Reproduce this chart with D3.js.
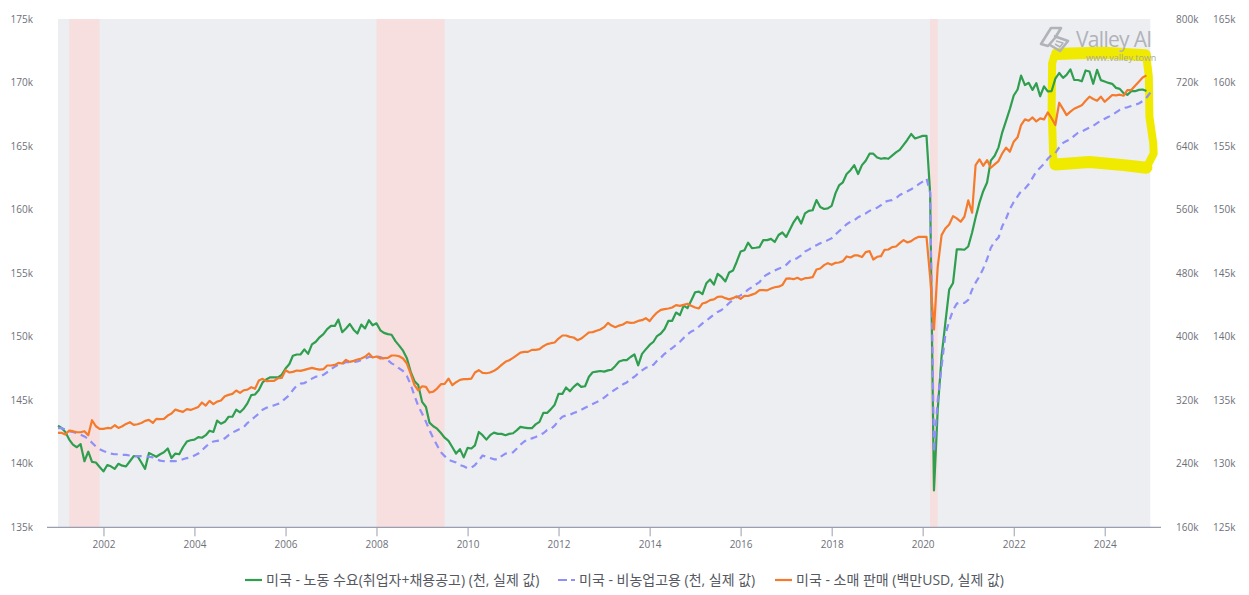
<!DOCTYPE html>
<html lang="ko">
<head>
<meta charset="utf-8">
<title>미국 노동 수요, 비농업고용, 소매 판매</title>
<script src="https://cdn.jsdelivr.net/npm/d3@7/dist/d3.min.js"></script>
<style>
  html, body { margin: 0; padding: 0; background: #fff; }
  svg { display: block; }
  text { font-family: "Open Sans", "Noto Sans CJK KR", sans-serif; }
</style>
</head>
<body>
<div id="chart"></div>
<script>
// Monthly series from January 2001, one row per calendar year.
const laborDemand = [
  143.0,142.8,142.5,141.9,141.5,141.3,141.55,140.2,140.95,140.15,140.1,139.75,
  139.4,139.9,139.8,139.6,140.0,139.85,139.8,140.2,140.6,140.6,140.1,139.6,
  140.85,140.7,140.55,140.75,140.9,141.2,140.45,140.8,140.75,141.3,141.75,141.85,
  141.9,142.1,142.05,142.25,142.6,142.5,143.4,143.15,143.3,143.7,143.7,144.25,
  144.05,144.35,144.75,145.4,145.45,145.8,146.4,146.65,146.8,146.8,146.8,147.0,
  147.5,147.85,148.5,148.6,148.6,149.0,148.65,149.4,149.6,149.95,150.2,150.6,
  150.85,150.85,151.35,150.35,150.65,151.0,150.55,150.25,150.95,150.65,151.3,150.9,
  151.05,150.5,150.3,150.2,150.15,149.65,149.3,148.9,148.3,147.25,146.5,146.2,
  144.87,144.47,143.24,142.95,142.76,142.42,142.05,141.8,141.3,140.8,141.15,140.5,
  141.25,141.2,141.45,142.5,142.25,141.9,142.25,142.45,142.35,142.35,142.25,142.35,
  142.4,142.65,142.9,142.85,142.8,142.8,143.1,143.3,144.0,144.0,144.3,144.65,
  145.5,145.5,146.0,145.7,146.05,146.3,146.05,146.1,146.85,147.2,147.25,147.3,
  147.25,147.35,147.4,147.7,148.05,148.15,148.15,148.4,148.6,147.75,148.65,149.0,
  149.35,149.6,150.05,150.25,150.6,151.25,151.25,151.9,151.7,152.45,152.25,152.85,
  153.5,153.55,153.35,154.2,154.5,154.1,154.95,154.7,154.35,155.05,155.2,155.9,
  156.7,156.8,157.4,156.97,157.0,157.05,157.6,157.6,157.7,157.45,158.0,158.2,
  157.85,158.45,159.0,159.45,158.9,159.7,159.9,159.95,160.75,160.2,160.05,160.1,
  160.3,161.3,161.9,162.15,162.8,163.1,163.5,162.8,163.5,163.85,164.4,164.4,
  164.1,164.0,164.05,164.0,164.25,164.5,164.7,165.1,165.5,165.95,165.6,165.7,
  165.8,165.8,161.3,137.9,144.25,148.45,151.07,153.7,154.23,156.87,156.87,156.84,
  157.1,158.2,159.37,160.55,161.45,162.13,163.85,164.24,164.9,166.08,167.0,167.92,
  168.98,169.45,170.55,169.8,169.98,169.42,169.95,168.92,169.7,169.3,169.33,170.3,
  170.75,170.37,170.6,171.03,170.2,170.2,170.1,170.95,170.87,169.9,171.0,170.19,
  170.08,169.97,169.9,169.58,169.5,169.16,169.03,169.32,169.32,169.42,169.45,169.34
];

const nonfarmPayrolls = [
  132.8,132.8,132.7,132.55,132.5,132.4,132.3,132.15,131.95,131.65,131.35,131.15,
  131.0,130.9,130.8,130.75,130.75,130.7,130.7,130.65,130.6,130.6,130.6,130.6,
  130.55,130.5,130.35,130.25,130.2,130.2,130.2,130.2,130.25,130.35,130.45,130.5,
  130.65,130.8,131.05,131.35,131.6,131.75,131.8,131.85,132.0,132.25,132.45,132.6,
  132.75,132.9,133.2,133.45,133.7,133.95,134.25,134.4,134.55,134.6,134.7,134.9,
  135.15,135.4,135.8,136.15,136.3,136.35,136.5,136.7,136.85,136.85,137.0,137.2,
  137.45,137.65,137.8,137.85,138.0,138.0,138.0,138.05,138.15,138.25,138.4,138.4,
  138.45,138.4,138.25,138.15,137.9,137.75,137.5,137.3,136.9,136.25,135.35,134.55,
  133.95,133.3,132.65,132.0,131.45,130.9,130.6,130.3,130.2,130.1,129.9,129.8,
  129.65,129.7,129.9,130.25,130.65,130.55,130.45,130.35,130.35,130.6,130.8,130.85,
  130.9,131.2,131.5,131.75,131.95,132.0,132.1,132.25,132.4,132.65,132.75,133.0,
  133.4,133.7,133.8,133.85,134.0,134.1,134.25,134.4,134.55,134.7,134.85,135.0,
  135.2,135.45,135.65,135.85,136.05,136.25,136.4,136.65,136.85,137.1,137.35,137.55,
  137.65,137.8,138.1,138.35,138.65,138.9,139.1,139.35,139.6,139.9,140.2,140.4,
  140.55,140.8,141.05,141.25,141.5,141.75,141.95,142.1,142.35,142.65,142.9,143.1,
  143.25,143.45,143.7,143.9,144.1,144.3,144.7,144.9,145.05,145.2,145.35,145.45,
  145.65,145.95,146.05,146.2,146.4,146.7,146.85,147.05,147.2,147.35,147.45,147.6,
  147.75,148.05,148.3,148.55,148.85,149.05,149.15,149.4,149.55,149.7,149.9,150.05,
  150.15,150.35,150.6,150.7,150.75,150.9,151.15,151.3,151.45,151.6,151.8,152.0,
  152.2,152.45,151.35,130.9,135.0,137.65,140.15,141.2,142.1,142.6,142.7,142.65,
  142.9,143.7,144.25,144.75,145.35,146.1,147.0,147.5,147.8,148.7,149.3,150.05,
  150.6,151.05,151.45,151.65,152.0,152.5,153.0,153.3,153.6,154.0,154.3,154.45,
  154.9,155.25,155.4,155.55,155.8,156.05,156.15,156.3,156.45,156.6,156.8,157.0,
  157.15,157.3,157.45,157.65,157.85,158.0,158.05,158.15,158.25,158.35,158.55,158.8,
  159.2
];

const retailSales = [
  278.8,278.8,276.7,281.8,281.0,279.7,279.7,281.0,275.9,294.8,287.2,283.9,
  283.9,285.1,284.7,288.5,285.1,287.2,290.2,292.3,288.9,289.8,291.4,294.0,
  295.2,291.4,296.5,296.1,296.5,300.7,303.2,308.2,306.6,305.3,308.7,307.8,
  309.5,311.6,317.1,313.3,319.2,315.0,318.3,319.6,325.0,326.7,328.0,332.2,
  329.2,332.6,333.4,336.4,334.3,344.8,346.9,344.0,344.4,344.4,347.7,348.1,
  357.8,354.9,355.7,357.4,357.0,358.2,359.5,360.7,359.5,358.6,359.1,363.7,
  363.7,364.5,367.0,366.2,370.8,368.3,369.6,371.2,372.5,374.6,378.8,373.8,
  375.0,372.5,372.9,373.3,376.3,376.3,375.4,372.5,366.2,353.6,338.9,332.6,
  337.6,336.8,329.7,330.9,334.7,340.2,340.6,347.3,338.9,342.7,345.6,346.5,
  346.5,347.3,354.9,357.8,354.4,354.0,354.9,357.0,360.3,364.5,368.3,370.4,
  373.3,376.7,380.0,380.9,380.9,383.4,383.4,384.3,388.0,390.6,391.8,392.7,
  397.7,401.5,401.5,399.8,399.0,395.6,397.7,401.5,405.3,405.7,407.4,409.0,
  412.0,417.4,414.0,412.0,414.0,415.3,418.3,417.4,417.8,419.9,420.8,423.3,
  419.5,425.8,430.4,433.8,434.7,435.5,436.7,439.7,438.8,440.1,441.4,439.0,
  436.7,435.5,441.8,443.2,446.0,447.0,450.2,450.6,448.5,447.0,448.5,450.8,
  447.7,451.4,451.2,453.0,454.8,458.6,458.6,458.3,460.7,462.2,463.0,465.0,
  473.0,473.3,472.4,474.1,471.8,473.7,474.1,474.9,484.6,485.9,490.1,492.6,
  490.5,493.0,493.4,495.1,501.0,499.7,502.3,502.3,500.2,506.5,507.7,497.2,
  500.6,501.4,509.4,509.8,512.8,513.6,517.8,521.6,518.6,520.3,523.7,525.8,
  525.8,525.6,475.4,409.0,488.0,527.9,536.3,541.3,551.8,548.9,544.7,551.0,
  571.6,556.0,616.0,623.2,615.2,622.4,612.7,616.9,621.1,630.8,637.9,632.9,
  645.5,651.0,666.5,673.6,671.9,676.1,671.0,674.8,673.6,682.4,675.0,666.5,
  694.6,686.6,679.0,683.3,687.0,689.2,691.3,697.1,702.2,699.3,697.1,702.2,
  695.8,700.0,704.3,703.8,704.7,703.4,710.5,710.5,716.0,721.0,726.4,729.0
];

// NBER recession windows, shaded behind the lines.
const recessionStarts = ["2001-04-01", "2008-01-01", "2020-03-01"];
const recessionEnds   = ["2001-12-01", "2009-07-01", "2020-05-01"];

const xTickYears   = [2002, 2004, 2006, 2008, 2010, 2012, 2014, 2016, 2018, 2020, 2022, 2024];
const demandTicks  = [135, 140, 145, 150, 155, 160, 165, 170, 175];
const retailTicks  = [160, 240, 320, 400, 480, 560, 640, 720, 800];
const payrollTicks = [125, 130, 135, 140, 145, 150, 155, 160, 165];

const legendLabels = [
  "미국 - 노동 수요(취업자+채용공고) (천, 실제 값)",
  "미국 - 비농업고용 (천, 실제 값)",
  "미국 - 소매 판매 (백만USD, 실제 값)"
];
const lineColors = ["#2f9e4f", "#8f8ff8", "#f57a2b"];

// Hand-drawn marker round the latest two years, as date and left-axis value.
const markerOutlineDates = ["2022-11-20","2023-01-01","2023-06-01","2024-01-01","2024-09-01","2024-12-01",
  "2024-12-20","2024-12-25","2025-01-25","2025-01-28","2024-12-01","2024-06-01","2023-09-01","2022-12-01","2022-11-15","2022-11-01","2022-11-05","2022-11-20"];
const markerOutlineValues = [172.0,172.2,172.2,172.3,172.15,172.0,
  170.5,167.3,165.2,164.4,163.3,163.45,163.7,163.5,163.8,168.0,171.5,172.0];
const markerBandDates = ["2022-12-15","2023-06-01","2024-01-01","2024-11-20", null,
  "2022-12-01","2023-09-01","2024-06-01","2024-12-01"];
const markerBandValues = [172.25,172.3,172.35,172.15, null,163.55,163.75,163.5,163.3];

const width = 1249, height = 595;
const plot = { left: 58, right: 1150.3, top: 19, bottom: 527.3 };

const svg = d3.select("#chart").append("svg")
  .attr("width", width).attr("height", height);

const x = d3.scaleTime()
  .domain([new Date(2001, 0, 1), new Date(2025, 0, 1)])
  .range([plot.left, plot.right]);
const yDemand  = d3.scaleLinear().domain([135, 175]).range([plot.bottom, plot.top]);
const yRetail  = d3.scaleLinear().domain([160, 800]).range([plot.bottom, plot.top]);
const yPayroll = d3.scaleLinear().domain([125, 165]).range([plot.bottom, plot.top]);

const parse = d3.timeParse("%Y-%m-%d");
const monthAt = i => new Date(2001, i, 1);

// Plot background and recession bands.
svg.append("rect")
  .attr("x", plot.left).attr("y", plot.top)
  .attr("width", plot.right - plot.left).attr("height", plot.bottom - plot.top)
  .attr("fill", "#eceef2");

svg.append("g").selectAll("rect")
  .data(recessionStarts.map((s, i) => [parse(s), parse(recessionEnds[i])]))
  .join("rect")
  .attr("x", d => x(d[0]))
  .attr("width", d => x(d[1]) - x(d[0]))
  .attr("y", plot.top)
  .attr("height", plot.bottom - plot.top)
  .attr("fill", "#f6dfde");

// Yellow marker strokes sit under the lines; the horizontal runs were pressed harder.
const markerLine = d3.line()
  .defined(d => d[0] !== null)
  .x(d => x(d[0])).y(d => yDemand(d[1]));
const markerColor = "#f0e900";
svg.append("path")
  .datum(markerOutlineDates.map((d, i) => [parse(d), markerOutlineValues[i]]))
  .attr("fill", "none").attr("stroke", markerColor).attr("stroke-width", 8)
  .attr("stroke-linejoin", "round").attr("stroke-linecap", "round")
  .attr("d", markerLine);
svg.append("path")
  .datum(markerBandDates.map((d, i) => [d ? parse(d) : null, markerBandValues[i]]))
  .attr("fill", "none").attr("stroke", markerColor).attr("stroke-width", 12)
  .attr("stroke-linejoin", "round").attr("stroke-linecap", "round")
  .attr("d", markerLine);

// Watermark.
const wm = svg.append("g").attr("fill", "none").attr("stroke", "#b0b3b8").attr("stroke-width", 2.6)
  .attr("stroke-linejoin", "round");
wm.append("path").attr("d", "M1041 44 L1051 28 L1061 28 L1055 38 L1048 46 Z");
wm.append("path").attr("d", "M1054 36 L1068 41 L1060 51 L1050 45");
wm.append("path").attr("d", "M1056 41 L1063 43 L1060 47 L1055 44").attr("stroke-width", 1.5);
svg.append("text").attr("x", 1076).attr("y", 47)
  .attr("font-size", 21).attr("fill", "#b0b3b8").attr("letter-spacing", -0.7).text("Valley AI");
svg.append("text").attr("x", 1086).attr("y", 61)
  .attr("font-size", 9).attr("fill", "#a9ab96").text("www.valley.town");

// Series.
const makeLine = y => d3.line().x((d, i) => x(monthAt(i))).y(d => y(d));
const seriesDefs = [
  { values: laborDemand,     y: yDemand,  color: lineColors[0], dash: null },
  { values: nonfarmPayrolls, y: yPayroll, color: lineColors[1], dash: "7,5" },
  { values: retailSales,     y: yRetail,  color: lineColors[2], dash: null }
];
svg.append("g").selectAll("path")
  .data(seriesDefs)
  .join("path")
  .attr("fill", "none")
  .attr("stroke", d => d.color)
  .attr("stroke-width", 2.2)
  .attr("stroke-linejoin", "round")
  .attr("stroke-dasharray", d => d.dash)
  .attr("d", d => makeLine(d.y)(d.values));

// Axes.
const axisColor = "#9a9eae", tickText = "#6e7079";
const xAxis = svg.append("g")
  .attr("transform", `translate(0,${plot.bottom})`)
  .call(d3.axisBottom(x)
    .tickValues(xTickYears.map(y => new Date(y, 0, 1)))
    .tickFormat(d3.timeFormat("%Y"))
    .tickSize(9).tickPadding(5));
xAxis.select(".domain").remove();
xAxis.selectAll("line").attr("stroke", axisColor);
xAxis.append("line").attr("x1", 47).attr("x2", 1161).attr("stroke", axisColor).attr("stroke-width", 1.2);

function valueAxis(axis, ticks, xPos, anchor) {
  const g = svg.append("g")
    .attr("transform", `translate(${xPos},0)`)
    .call(axis.tickValues(ticks).tickFormat(v => `${v}k`).tickSize(0).tickPadding(0));
  g.select(".domain").remove();
  g.selectAll("text").attr("text-anchor", anchor);
}
valueAxis(d3.axisLeft(yDemand), demandTicks, 33, "end");
valueAxis(d3.axisRight(yRetail), retailTicks, 1176, "start");
valueAxis(d3.axisRight(yPayroll), payrollTicks, 1213, "start");

svg.selectAll(".tick text")
  .attr("font-family", '"Open Sans", sans-serif')
  .attr("font-size", 10)
  .attr("fill", tickText);

// Legend.
const legendX = [245, 558, 775];
const legend = svg.append("g").selectAll("g")
  .data(legendLabels)
  .join("g")
  .attr("transform", (d, i) => `translate(${legendX[i]},580)`);
legend.append("line")
  .attr("x1", 0).attr("x2", 17)
  .attr("stroke", (d, i) => lineColors[i])
  .attr("stroke-width", 2.2)
  .attr("stroke-dasharray", (d, i) => i === 1 ? "9,4" : null);
legend.append("text")
  .attr("x", 21).attr("y", 0).attr("dy", "0.35em")
  .attr("font-family", '"Noto Sans CJK KR", sans-serif')
  .attr("font-size", 14)
  .attr("fill", "#55585f")
  .text(d => d);
</script>
</body>
</html>
